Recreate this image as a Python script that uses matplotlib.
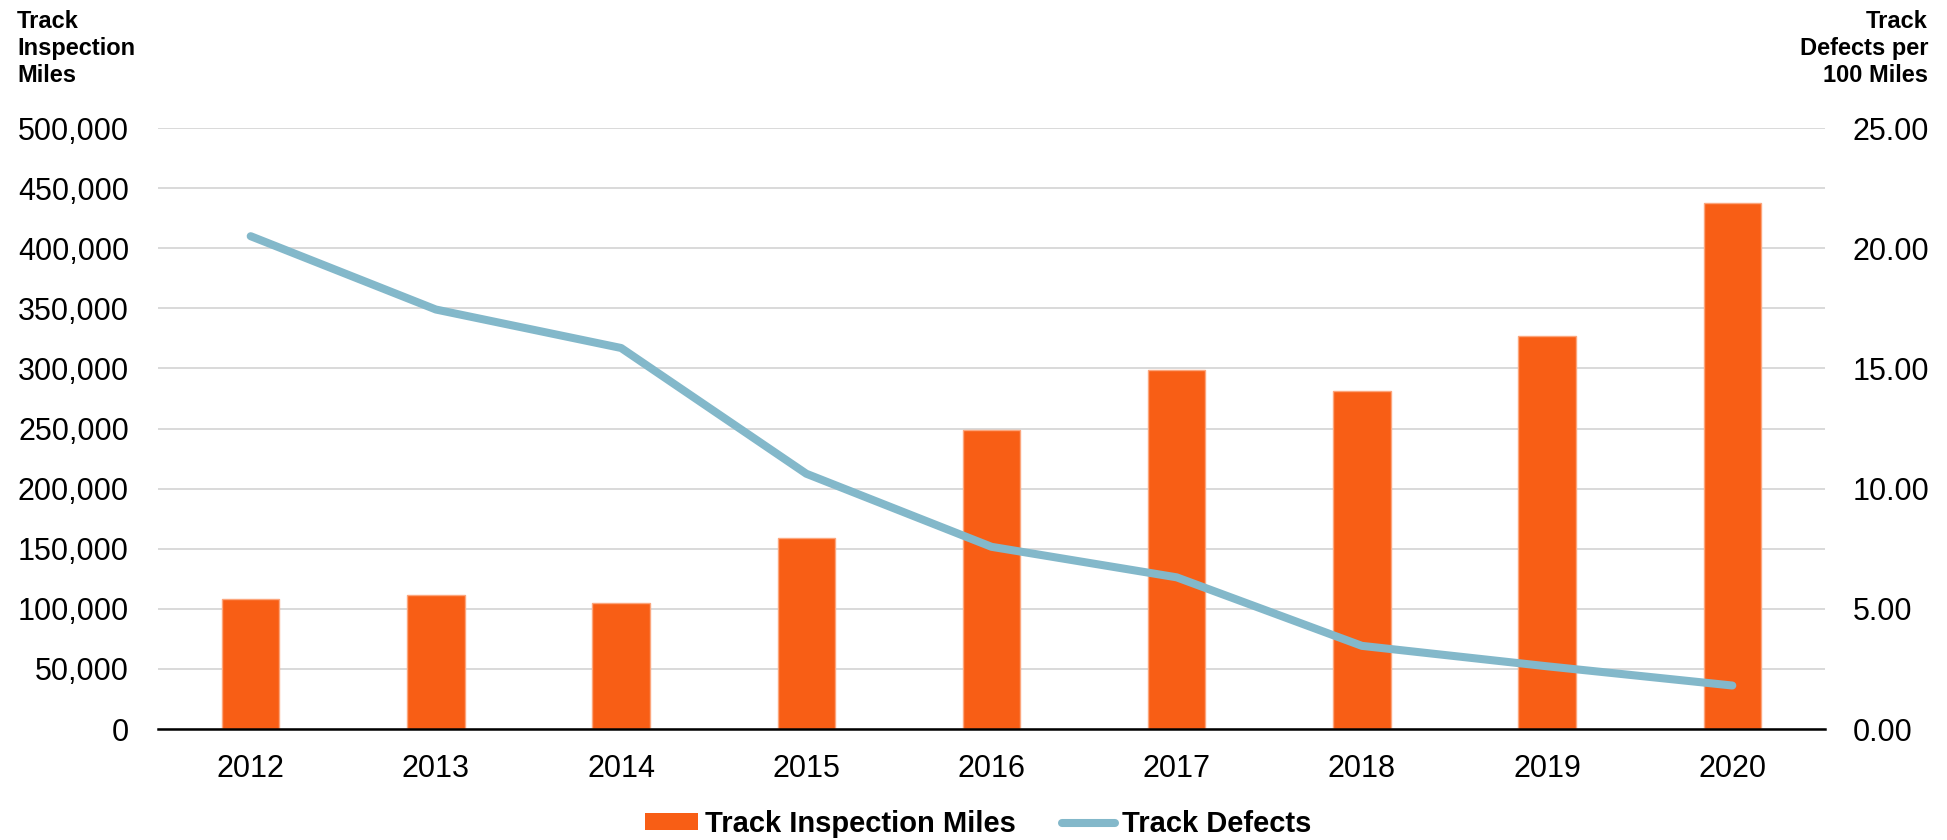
import matplotlib
matplotlib.use("Agg")
import matplotlib.pyplot as plt
from matplotlib.lines import Line2D
from matplotlib.patches import Patch
from matplotlib.ticker import FuncFormatter

plt.rcParams['font.family'] = ['Liberation Sans', 'DejaVu Sans']

years = ['2012', '2013', '2014', '2015', '2016', '2017', '2018', '2019', '2020']
inspection_miles = [107800, 111700, 105000, 158900, 249000, 299000, 281500, 327300, 438000]
defects_per_100 = [20.50, 17.45, 15.85, 10.62, 7.58, 6.31, 3.46, 2.61, 1.81]

bar_color = '#F85E15'
line_color = '#83B8CA'

fig = plt.figure(figsize=(19.47, 8.4), dpi=100)
ax = fig.add_axes([0.0812, 0.1321, 0.8561, 0.7155])
ax2 = ax.twinx()

x = list(range(len(years)))
ax.bar(x, inspection_miles, width=0.31, color=bar_color, edgecolor='#FCA67D', linewidth=1, zorder=2)
ax2.plot(x, defects_per_100, color=line_color, lw=5.8, solid_capstyle='round', solid_joinstyle='round')

ax.set_xlim(-0.5, len(years) - 0.5)
ax.set_ylim(0, 500000)
ax2.set_ylim(0, 25)
ax.set_yticks(range(0, 500001, 50000))
ax2.set_yticks([0, 5, 10, 15, 20, 25])
ax.yaxis.set_major_formatter(FuncFormatter(lambda v, p: f'{v:,.0f}'))
ax2.yaxis.set_major_formatter(FuncFormatter(lambda v, p: f'{v:.2f}'))
ax.set_xticks(x)
ax.set_xticklabels(years)

ax.set_axisbelow(True)
ax.grid(axis='y', color='#D9D9D9', lw=1.4, zorder=0)

for a in (ax, ax2):
    for s in ('top', 'left', 'right'):
        a.spines[s].set_visible(False)
    a.spines['bottom'].set_visible(False)
ax.spines['bottom'].set_visible(True)
ax.spines['bottom'].set_color('black')
ax.spines['bottom'].set_linewidth(1.8)
ax.spines['bottom'].set_zorder(3)

ax.tick_params(axis='y', length=0, pad=21, labelsize=22)
ax.tick_params(axis='x', length=0, pad=18, labelsize=22)
ax2.tick_params(axis='y', length=0, pad=20, labelsize=22)

fig.text(17 / 1947, 1 - 10 / 840, 'Track\nInspection\nMiles', ha='left', va='top',
         fontsize=17, fontweight='bold', linespacing=1.22)
fig.text(1928 / 1947, 1 - 10 / 840, 'Track\nDefects per\n100 Miles', ha='right', va='top',
         fontsize=17, fontweight='bold', linespacing=1.22, multialignment='right')

handles = [Patch(facecolor=bar_color, edgecolor='none'),
           Line2D([0], [0], color=line_color, lw=5.8, solid_capstyle='round')]
fig.legend(handles, ['Track Inspection Miles', 'Track Defects'], loc='center',
           bbox_to_anchor=(0.5025, 0.019), ncol=2, frameon=False,
           prop={'size': 21, 'weight': 'bold'}, handlelength=1.8, handleheight=0.5,
           handletextpad=0.25, columnspacing=1.6)

fig.savefig('out.png', dpi=100)
